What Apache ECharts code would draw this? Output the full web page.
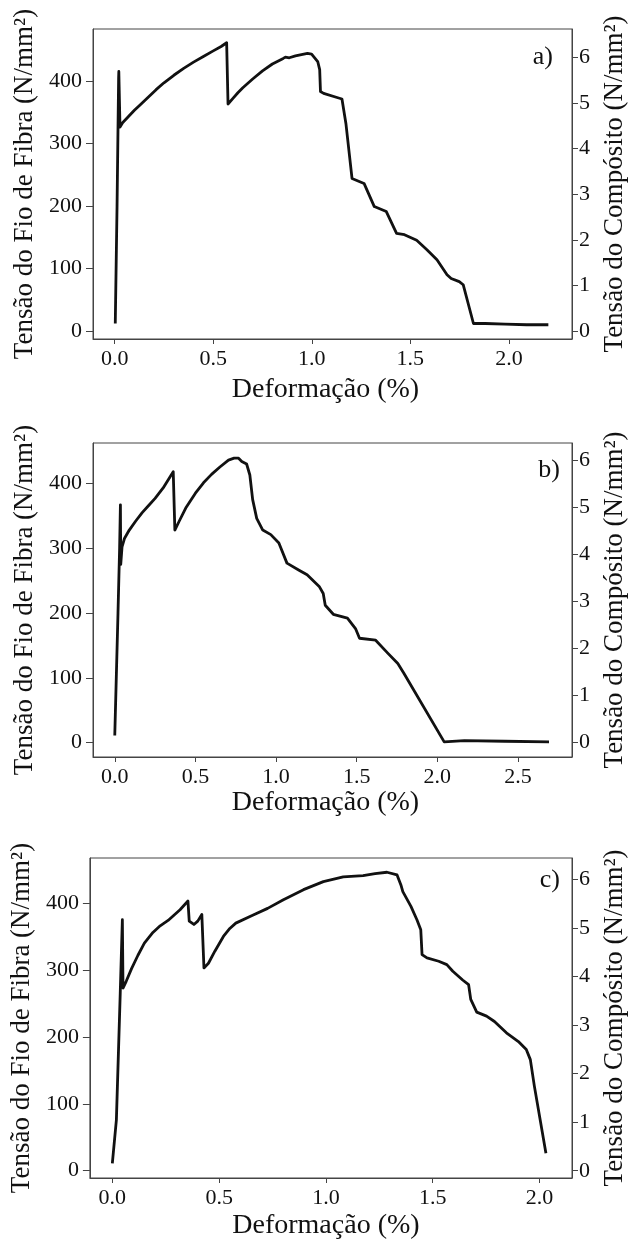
<!DOCTYPE html>
<html>
<head>
<meta charset="utf-8">
<script src="https://cdn.jsdelivr.net/npm/echarts@6/dist/echarts.min.js"></script>
<style>
html,body{margin:0;padding:0;background:#fff;}
#chart{width:636px;height:1245px;}
</style>
</head>
<body>
<div id="chart"></div>
<script>
// ---- data ----
const panelLabels = ['a)', 'b)', 'c)'];
const xTitle = 'Deformação (%)';
const yLeftTitle = 'Tensão do Fio de Fibra (N/mm²)';
const yRightTitle = 'Tensão do Compósito (N/mm²)';

const xTicksA = [0, 0.5, 1.0, 1.5, 2.0];
const xTicksB = [0, 0.5, 1.0, 1.5, 2.0, 2.5];
const xTicksC = [0, 0.5, 1.0, 1.5, 2.0];
const yLeftTicks = [0, 100, 200, 300, 400];
const yRightTicks = [0, 1, 2, 3, 4, 5, 6];

const aX = [0.003, 0.012, 0.02, 0.021, 0.027, 0.04, 0.07, 0.1, 0.13, 0.17, 0.21, 0.25, 0.3, 0.35, 0.4, 0.45, 0.5, 0.54, 0.568, 0.575, 0.6, 0.625, 0.65, 0.7, 0.75, 0.8, 0.855, 0.866, 0.886, 0.917, 0.978, 0.999, 1.03, 1.04, 1.044, 1.06, 1.132, 1.153, 1.173, 1.204, 1.265, 1.317, 1.378, 1.43, 1.47, 1.532, 1.584, 1.635, 1.686, 1.707, 1.748, 1.768, 1.82, 1.88, 1.98, 2.09, 2.2];
const aY = [12, 200, 405, 415, 326, 333, 343, 353, 362, 374, 386, 397, 409, 420, 430, 439, 448, 455, 461, 363, 372, 381, 389, 403, 416, 427, 436, 438, 437, 440, 444, 443, 431, 418, 383, 380, 373, 371, 332, 244, 236, 199, 191, 156, 154, 145, 130, 114, 90, 84, 79, 74, 12, 12, 11, 10, 10];

const bX = [0, 0.02, 0.03, 0.035, 0.037, 0.045, 0.06, 0.09, 0.13, 0.17, 0.21, 0.25, 0.3, 0.3625, 0.3725, 0.4, 0.44, 0.5, 0.55, 0.6, 0.65, 0.705, 0.74, 0.7675, 0.7875, 0.8175, 0.8375, 0.855, 0.88, 0.9175, 0.9675, 1.0175, 1.0675, 1.1425, 1.1925, 1.2675, 1.2925, 1.305, 1.355, 1.4425, 1.4925, 1.5175, 1.6175, 1.6925, 1.755, 1.7925, 2.0425, 2.1675, 2.4175, 2.6925];
const bY = [11, 200, 300, 367, 275, 302, 315, 328, 342, 355, 366, 377, 393, 418, 328, 342, 362, 385, 401, 414, 425, 436, 439, 439, 434, 430, 413, 375, 346, 328, 321, 308, 277, 266, 259, 241, 230, 212, 198, 192, 176, 161, 158, 138, 122, 107, 1, 3, 2, 1];

const cX = [0, 0.019, 0.037, 0.047, 0.05, 0.065, 0.09, 0.12, 0.15, 0.19, 0.224, 0.261, 0.317, 0.354, 0.36, 0.382, 0.4, 0.419, 0.429, 0.45, 0.48, 0.52, 0.55, 0.578, 0.652, 0.727, 0.801, 0.895, 0.988, 1.081, 1.174, 1.23, 1.286, 1.333, 1.351, 1.36, 1.398, 1.426, 1.444, 1.45, 1.473, 1.528, 1.566, 1.594, 1.64, 1.668, 1.678, 1.706, 1.752, 1.789, 1.845, 1.901, 1.938, 1.957, 1.976, 2.03];
const cY = [11, 76, 265, 375, 273, 283, 302, 322, 340, 356, 366, 374, 390, 403, 373, 368, 373, 383, 303, 310, 328, 350, 362, 370, 381, 392, 405, 420, 432, 439, 441, 444, 446, 442, 427, 417, 395, 375, 360, 323, 318, 313, 308, 298, 285, 278, 256, 237, 231, 223, 206, 193, 181, 166, 126, 26];

// ---- layout ----
const FONT = 'Liberation Serif';
const INK = '#111';
const FRAME = '#444';
const panels = [
  {x: aX, y: aY, ticks: xTicksA, left: 93, right: 64, top: 29, height: 310, xmin: -0.11, xmax: 2.32, ymin: -12.8, ymax: 483, rmin: -0.175, rmax: 6.62, gap: 37, shift: 14, lab: [553, 57]},
  {x: bX, y: bY, ticks: xTicksB, left: 93, right: 64, top: 443, height: 314, xmin: -0.135, xmax: 2.835, ymin: -22.3, ymax: 462.4, rmin: -0.32, rmax: 6.357, gap: 31, shift: 14, lab: [560, 470]},
  {x: cX, y: cY, ticks: xTicksC, left: 86, right: 62, top: 858, height: 320, xmin: -0.105, xmax: 2.152, ymin: -10.9, ymax: 467.3, rmin: -0.15, rmax: 6.447, gap: 34, shift: 10, lab: [560, 880]}
];

const grid = [], xAxis = [], yAxis = [], series = [], graphic = [];
panels.forEach((p, i) => {
  grid.push({left: p.left, right: p.right, top: p.top, height: p.height, show: true, borderColor: FRAME, borderWidth: 1, backgroundColor: 'transparent'});
  xAxis.push({
    type: 'value', gridIndex: i, min: p.xmin, max: p.xmax,
    name: xTitle, nameLocation: 'middle', nameGap: p.gap,
    nameTextStyle: {fontFamily: FONT, fontSize: 28, color: INK, padding: [0, p.shift, 0, 0]},
    axisLine: {show: true, onZero: false, lineStyle: {color: FRAME, width: 1}},
    axisTick: {show: true, length: 5, lineStyle: {color: FRAME}, customValues: p.ticks},
    axisLabel: {fontFamily: FONT, fontSize: 22, color: INK, margin: 9, customValues: p.ticks, formatter: v => v.toFixed(1)},
    splitLine: {show: false}
  });
  yAxis.push({
    type: 'value', gridIndex: i, position: 'left', min: p.ymin, max: p.ymax,
    name: yLeftTitle, nameLocation: 'middle', nameGap: 50,
    nameTextStyle: {fontFamily: FONT, fontSize: 27, color: INK},
    axisLine: {show: true, onZero: false, lineStyle: {color: FRAME, width: 1}},
    axisTick: {show: true, length: 7, lineStyle: {color: FRAME}, customValues: yLeftTicks},
    axisLabel: {fontFamily: FONT, fontSize: 22, color: INK, margin: 11, customValues: yLeftTicks},
    splitLine: {show: false}
  });
  yAxis.push({
    type: 'value', gridIndex: i, position: 'right', min: p.rmin, max: p.rmax,
    name: yRightTitle, nameLocation: 'middle', nameGap: 29,
    nameTextStyle: {fontFamily: FONT, fontSize: 27, color: INK},
    axisLine: {show: true, onZero: false, lineStyle: {color: FRAME, width: 1}},
    axisTick: {show: true, length: 6, lineStyle: {color: FRAME}, customValues: yRightTicks},
    axisLabel: {fontFamily: FONT, fontSize: 22, color: INK, margin: 7, customValues: yRightTicks},
    splitLine: {show: false}
  });
  series.push({
    type: 'line', xAxisIndex: i, yAxisIndex: i * 2,
    data: p.x.map((v, k) => [v, p.y[k]]),
    showSymbol: false, symbol: 'none', smooth: false,
    lineStyle: {color: INK, width: 2.8, join: 'round'},
    animation: false
  });
  graphic.push({
    type: 'text', x: p.lab[0], y: p.lab[1],
    style: {text: panelLabels[i], font: '26px "Liberation Serif"', fill: INK, align: 'right', verticalAlign: 'middle'}
  });
});

const chart = echarts.init(document.getElementById('chart'), null, {renderer: 'canvas'});
chart.setOption({animation: false, backgroundColor: '#fff', grid, xAxis, yAxis, series, graphic});
</script>
</body>
</html>
